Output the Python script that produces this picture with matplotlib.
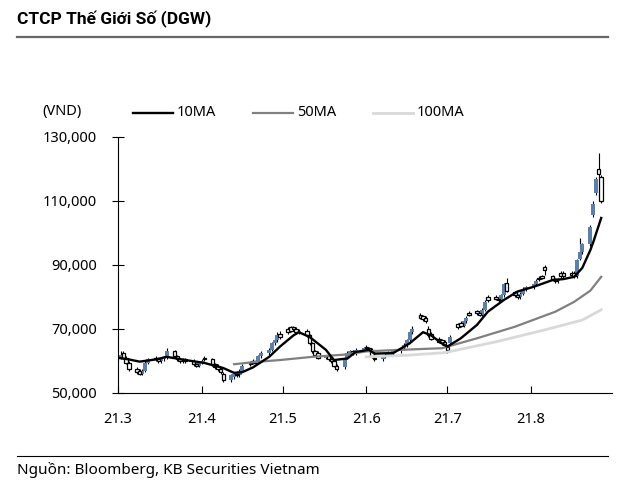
import numpy as np
import pandas as pd
import matplotlib
matplotlib.use("Agg")
import matplotlib.pyplot as plt
import matplotlib.dates as mdates
from matplotlib import font_manager
from matplotlib.lines import Line2D
from matplotlib.ticker import FuncFormatter

plt.rcParams['font.family'] = ['Noto Sans', 'DejaVu Sans']
installed = {f.name for f in font_manager.fontManager.ttflist}
title_font = 'Liberation Sans Narrow' if 'Liberation Sans Narrow' in installed else 'Roboto'

# daily candles, thousand VND, one row per week (Mon-Fri)
days = pd.bdate_range('2021-03-01', '2021-08-27')

opens = [
    60.5, 61.0, 62.5, 61.0, 59.5,
    57.5, 57.0, 56.0, 57.0, 59.5,
    61.0, 60.5, 60.0, 60.5, 61.0,
    63.0, 61.5, 60.5, 60.0, 60.5,
    60.0, 59.0, 58.5, 59.5, 61.0,
    60.5, 59.0, 58.5, 57.5, 56.0,
    54.0, 55.0, 56.0, 55.5, 57.0,
    59.5, 60.0, 60.0, 59.5, 61.5,
    62.5, 63.5, 65.5, 66.5, 68.5,
    70.0, 70.5, 70.5, 70.0, 69.0,
    69.5, 68.0, 65.5, 63.0, 62.5,
    61.0, 61.5, 60.5, 60.0, 58.5,
    58.0, 61.0, 62.5, 63.0, 62.5,
    63.5, 64.5, 64.0, 63.5, 61.0,
    60.5, 61.5, 62.0, 62.0, 62.5,
    63.0, 64.0, 65.0, 66.5, 69.0,
    74.5, 74.0, 73.5, 70.0, 68.5,
    67.0, 66.5, 66.0, 64.5, 65.5,
    71.5, 72.0, 71.0, 72.5, 75.0,
    75.5, 75.0, 74.5, 76.0, 80.0,
    80.0, 79.5, 79.0, 80.5, 84.5,
    81.5, 80.5, 80.0, 81.0, 82.5,
    83.0, 84.0, 86.0, 86.5, 89.5,
    86.5, 85.5, 85.0, 87.5, 87.5,
    87.5, 87.5, 86.5, 92.0, 94.0,
    96.5, 105.5, 112.5, 120.0, 117.5,
]
highs = [
    62.0, 63.0, 63.0, 61.5, 60.0,
    58.0, 57.5, 57.5, 60.0, 61.0,
    61.5, 61.0, 61.0, 61.5, 64.0,
    63.5, 62.0, 61.0, 61.0, 61.0,
    60.5, 59.5, 60.0, 60.5, 61.5,
    61.0, 59.5, 59.0, 58.0, 56.5,
    56.0, 56.5, 56.5, 57.5, 59.0,
    60.0, 60.5, 60.5, 62.0, 63.0,
    64.0, 66.0, 67.5, 69.0, 69.5,
    70.5, 71.0, 71.0, 70.5, 70.0,
    70.0, 68.5, 66.0, 63.5, 63.0,
    62.0, 62.0, 61.0, 60.5, 59.0,
    61.5, 63.0, 63.5, 63.5, 64.0,
    64.5, 65.0, 64.5, 64.0, 61.5,
    62.0, 62.5, 63.0, 63.0, 63.5,
    64.5, 65.5, 67.0, 69.5, 71.0,
    75.0, 74.5, 74.0, 71.0, 69.0,
    67.5, 67.0, 66.5, 65.0, 68.0,
    72.0, 72.5, 73.0, 74.0, 75.5,
    76.0, 75.5, 76.5, 79.0, 80.5,
    80.5, 80.0, 81.0, 84.5, 86.0,
    82.0, 81.0, 81.5, 83.0, 83.5,
    84.5, 85.5, 86.5, 87.0, 90.0,
    87.0, 86.0, 86.0, 88.0, 88.0,
    88.0, 88.0, 92.0, 98.5, 97.0,
    102.5, 110.0, 117.5, 125.0, 118.0,
]
lows = [
    60.0, 60.5, 60.5, 59.0, 57.0,
    56.0, 55.5, 55.5, 56.5, 59.0,
    60.0, 59.5, 59.5, 60.0, 60.5,
    61.0, 60.0, 59.5, 59.5, 59.5,
    58.5, 58.0, 58.0, 59.0, 60.0,
    58.5, 57.5, 57.0, 56.0, 53.5,
    53.5, 54.5, 55.0, 55.0, 56.5,
    58.5, 59.0, 59.0, 59.0, 61.0,
    62.0, 63.0, 65.0, 66.0, 67.0,
    68.5, 69.0, 69.5, 68.5, 68.5,
    67.5, 65.0, 62.5, 61.5, 60.5,
    60.5, 60.0, 59.5, 58.0, 57.0,
    57.5, 60.5, 62.0, 62.0, 62.0,
    63.0, 63.5, 63.0, 61.0, 60.0,
    60.0, 61.0, 61.5, 61.5, 62.0,
    62.5, 63.5, 64.5, 66.0, 68.5,
    73.0, 72.5, 72.0, 67.5, 66.5,
    65.5, 65.0, 64.5, 62.5, 65.0,
    70.0, 70.5, 70.5, 72.0, 74.0,
    74.5, 74.0, 74.0, 75.5, 78.5,
    79.0, 78.5, 78.5, 80.0, 81.5,
    80.0, 79.5, 79.5, 80.5, 82.0,
    82.5, 83.5, 85.0, 85.5, 87.0,
    85.0, 84.5, 84.5, 86.0, 86.0,
    86.5, 86.0, 86.0, 91.5, 93.5,
    96.0, 105.0, 112.0, 117.5, 109.5,
]
closes = [
    61.5, 62.0, 61.0, 59.5, 57.5,
    56.5, 56.0, 57.0, 59.5, 60.5,
    60.5, 60.0, 60.5, 61.0, 63.0,
    61.5, 60.5, 60.0, 60.5, 60.0,
    59.0, 58.5, 59.5, 60.0, 60.5,
    59.0, 58.0, 57.5, 56.5, 54.0,
    55.5, 56.0, 55.5, 57.0, 58.5,
    59.0, 59.5, 59.5, 61.5, 62.5,
    63.5, 65.5, 66.5, 68.0, 67.5,
    69.0, 69.5, 70.0, 69.0, 69.5,
    68.0, 65.5, 63.0, 62.0, 61.0,
    61.5, 60.5, 60.0, 58.5, 57.5,
    61.0, 62.5, 63.0, 62.5, 63.5,
    64.0, 64.0, 63.5, 61.5, 60.5,
    61.5, 62.0, 62.5, 62.5, 63.0,
    64.0, 65.0, 66.5, 69.0, 70.0,
    73.5, 73.0, 72.5, 68.0, 67.0,
    66.0, 65.5, 65.0, 63.5, 67.5,
    70.5, 71.0, 72.5, 73.5, 74.5,
    75.0, 74.5, 76.0, 78.5, 79.0,
    79.5, 79.0, 80.5, 84.0, 82.0,
    80.5, 80.0, 81.0, 82.5, 83.0,
    84.0, 85.0, 85.5, 86.0, 88.5,
    85.5, 85.0, 85.5, 86.5, 86.5,
    87.0, 86.5, 91.5, 94.0, 96.5,
    102.0, 109.0, 117.0, 118.5, 110.0,
]

# moving averages
ma10_dates = ['2021-03-01', '2021-03-05', '2021-03-09', '2021-03-15', '2021-03-19',
              '2021-03-26', '2021-04-02', '2021-04-09', '2021-04-13', '2021-04-16',
              '2021-04-20', '2021-04-26', '2021-04-30', '2021-05-05', '2021-05-07',
              '2021-05-11', '2021-05-17', '2021-05-20', '2021-05-25', '2021-05-28',
              '2021-06-02', '2021-06-04', '2021-06-11', '2021-06-17', '2021-06-22',
              '2021-06-25', '2021-06-29', '2021-07-01', '2021-07-06', '2021-07-12',
              '2021-07-16', '2021-07-22', '2021-07-27', '2021-08-02', '2021-08-09',
              '2021-08-13', '2021-08-17', '2021-08-20', '2021-08-23', '2021-08-24',
              '2021-08-27']
ma10 = [61.0, 60.5, 59.8, 60.5, 61.3, 60.3, 59.4, 57.8, 56.3, 56.5,
        58.0, 61.3, 64.5, 68.0, 69.0, 67.5, 63.5, 60.3, 60.8, 62.8,
        63.5, 62.3, 62.5, 65.5, 69.0, 68.0, 65.5, 64.5, 67.1, 71.3,
        75.4, 79.1, 81.7, 83.2, 85.3, 85.6, 86.3, 89.1, 94.7, 97.0,
        104.7]
ma50_dates = ['2021-04-13', '2021-04-21', '2021-04-30', '2021-05-12', '2021-05-24',
              '2021-06-01', '2021-06-11', '2021-06-29', '2021-07-12', '2021-07-26',
              '2021-08-10', '2021-08-17', '2021-08-23', '2021-08-27']
ma50 = [59.0, 59.7, 60.3, 61.3, 62.0, 63.0, 63.4, 64.0, 67.1, 70.7,
        75.4, 78.5, 82.0, 86.3]
ma100_dates = ['2021-06-01', '2021-06-16', '2021-06-30', '2021-07-19', '2021-08-06',
               '2021-08-20', '2021-08-27']
ma100 = [61.3, 61.8, 62.6, 66.0, 69.7, 72.8, 76.0]

o = np.array(opens) * 1000
h = np.array(highs) * 1000
l = np.array(lows) * 1000
c = np.array(closes) * 1000
x = mdates.date2num(days.to_pydatetime())

fig = plt.figure(figsize=(6.4, 4.84), dpi=100)
ax = fig.add_axes([118 / 640, 1 - 393 / 484, (612 - 118) / 640, (393 - 137) / 484])

blue = '#5b80ad'
up = c >= o
ax.vlines(x, l, h, color='black', lw=0.8, zorder=1)
ax.bar(x[up], c[up] - o[up], bottom=o[up], width=1.5, color=blue, lw=0, zorder=2)
ax.bar(x[~up], o[~up] - c[~up], bottom=c[~up], width=1.3, facecolor='white',
       edgecolor='black', lw=0.9, zorder=2)

def to_x(ds):
    return mdates.date2num(pd.to_datetime(ds).to_pydatetime())

ax.plot(to_x(ma100_dates), np.array(ma100) * 1000, color='#d9d9d9', lw=2.0, zorder=3)
ax.plot(to_x(ma50_dates), np.array(ma50) * 1000, color='#808080', lw=1.6, zorder=3)
ax.plot(to_x(ma10_dates), np.array(ma10) * 1000, color='black', lw=1.7, zorder=4)

ax.set_ylim(50000, 130000)
ax.set_xlim(mdates.date2num(pd.Timestamp('2021-03-01')), mdates.date2num(pd.Timestamp('2021-08-31')))
ax.set_yticks(np.arange(50000, 130001, 20000))
ax.yaxis.set_major_formatter(FuncFormatter(lambda v, p: f'{int(v):,}'))
ax.xaxis.set_major_locator(mdates.MonthLocator())
ax.xaxis.set_major_formatter(FuncFormatter(
    lambda v, p: f'{mdates.num2date(v).year % 100}.{mdates.num2date(v).month}'))
for s in ['top', 'right']:
    ax.spines[s].set_visible(False)
ax.tick_params(axis='y', direction='inout', length=8, width=0.8, labelsize=10.5, pad=11)
ax.tick_params(axis='x', direction='in', length=5, width=0.8, labelsize=10.5, pad=14)

# header, legend, footer
fig.text(17 / 640, 1 - 19 / 484, 'CTCP Thế Giới Số (DGW)', fontsize=12.5, fontweight='bold',
         family=[title_font, 'DejaVu Sans'], va='center', ha='left')
fig.add_artist(Line2D([17 / 640, 608 / 640], [1 - 37 / 484] * 2, color='#666666', lw=1.6))
fig.text(62 / 640, 1 - 111 / 484, '(VND)', fontsize=10.5, ha='center', va='center')
legend_items = [('10MA', 'black', 1.7, 133), ('50MA', '#808080', 1.6, 253),
                ('100MA', '#d9d9d9', 2.0, 373)]
for name, col, lw, x0 in legend_items:
    fig.add_artist(Line2D([x0 / 640, (x0 + 40) / 640], [1 - 113 / 484] * 2, color=col, lw=lw))
    fig.text((x0 + 44) / 640, 1 - 113 / 484, name, fontsize=10.5, va='center', ha='left')
fig.add_artist(Line2D([17 / 640, 608 / 640], [1 - 456 / 484] * 2, color='black', lw=0.8))
fig.text(17 / 640, 1 - 470 / 484, 'Nguồn: Bloomberg, KB Securities Vietnam', fontsize=11,
         va='center', ha='left')

fig.savefig('out.png', dpi=100)
